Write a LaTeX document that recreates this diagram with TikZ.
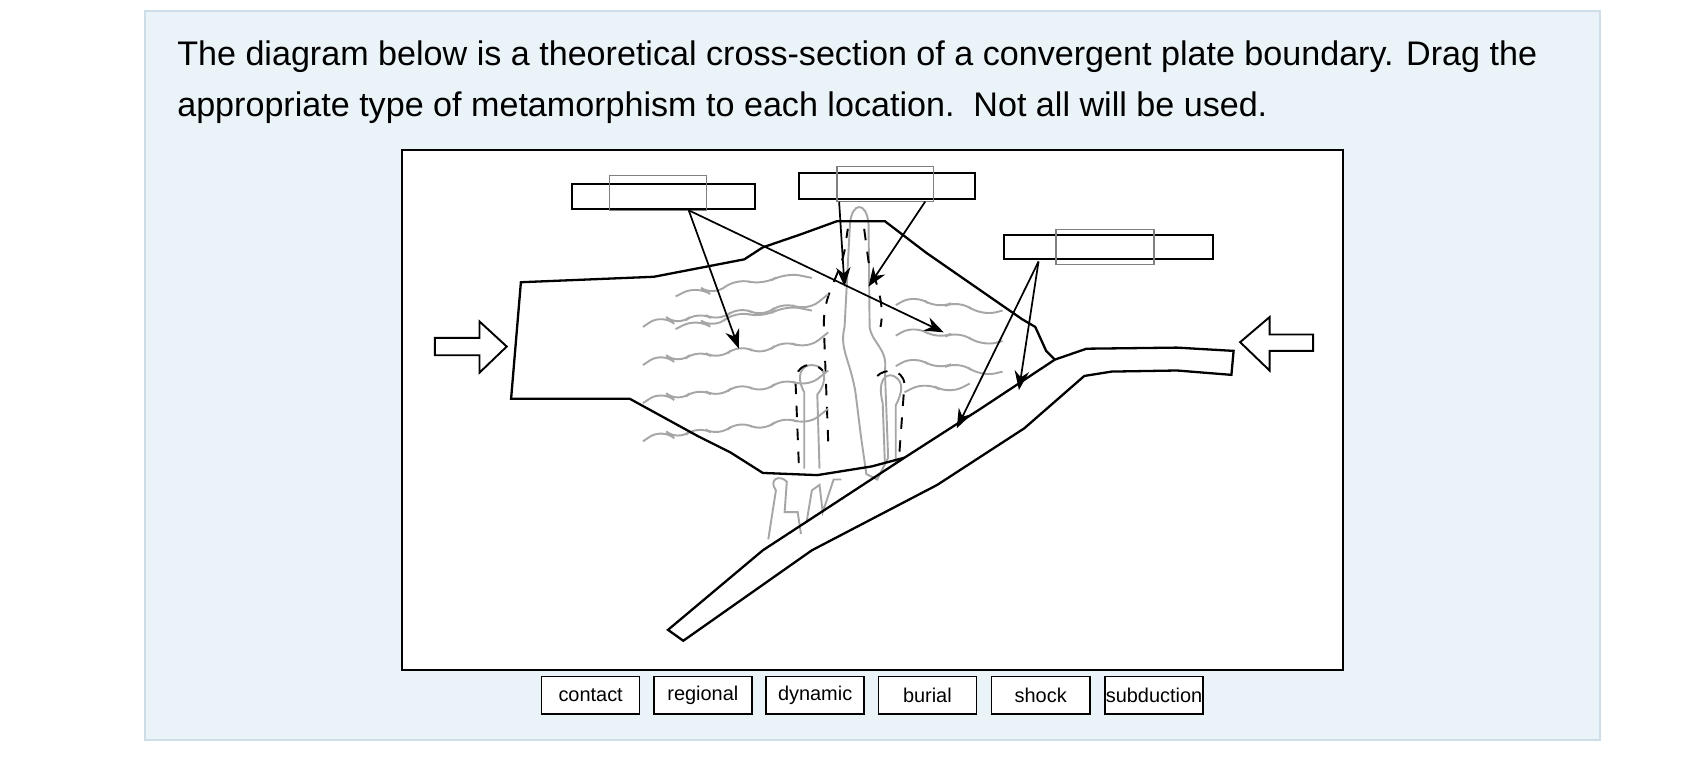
\documentclass[tikz,border=0pt]{standalone}
\usepackage{fontspec}
\setmainfont{Liberation Sans}
\usetikzlibrary{arrows.meta}
\definecolor{panelblue}{RGB}{234,243,247}
\definecolor{panelline}{RGB}{205,222,232}
\tikzset{
    labelbox/.style={draw, line width=0.5pt},
    innerbox/.style={draw=gray, line width=0.3pt},
    pointer/.style={-{Stealth[length=5pt]}, line width=0.45pt},
    foliation/.style={gray!70, line width=0.5pt, rounded corners=4pt},
    choice/.style={draw, fill=white, line width=0.4pt, minimum width=0.9cm, minimum height=0.34cm, font=\fontsize{5.2}{6}\selectfont, inner sep=0pt}
}
\begin{document}
\begin{tikzpicture}[x=0.01cm, y=-0.01cm]

    %% Page and panel
    \fill[white] (0,0) rectangle (1560,701);
    \filldraw[fill=panelblue, draw=panelline] (133,10) rectangle (1468,679);
    \node[anchor=base west, font=\fontsize{8.9}{10}\selectfont, inner sep=0] (line1) at (162,60)
        {The diagram below is a theoretical cross-section of a convergent plate boundary. Drag the};
    \node[anchor=base west, font=\fontsize{8.9}{10}\selectfont, inner sep=0] (line2) at (162,107)
        {appropriate type of metamorphism to each location.\ \ Not all will be used.};

    % Diagram frame
    \filldraw[fill=white, draw=black, line width=0.5pt] (369,138) rectangle (1232,615);

    % Pluton (gray)
    \begin{scope}[gray!70, line width=0.5pt]
        \draw (780,205) .. controls (782,185) and (795,185) .. (797,205)
            -- (798,300) .. controls (800,315) and (815,320) .. (812,340)
            -- (815,420) -- (805,440) -- (795,435) -- (790,400) -- (785,360)
            .. controls (780,330) and (770,320) .. (775,300) -- cycle;
        \draw (738,430) -- (738,360) .. controls (730,345) and (735,335) .. (745,335)
            .. controls (758,335) and (760,350) .. (750,362) -- (752,430);
        \draw (812,425) -- (810,370) .. controls (805,350) and (812,342) .. (820,345)
            .. controls (830,350) and (828,360) .. (822,372) -- (822,425);
        \draw (705,495) -- (712,450) .. controls (705,440) and (715,435) .. (722,442)
            -- (720,470) -- (732,470) -- (735,490);
        \draw (740,480) -- (745,450) -- (752,445) -- (755,470) -- (765,440) -- (772,440);
    \end{scope}

    % Dashed outline of the pluton
    \draw[dashed, line width=0.5pt] (760,405) -- (756,300) .. controls (755,270) and (770,255) .. (775,230)
        -- (778,210);
    \draw[dashed, line width=0.5pt] (793,210) -- (797,240) .. controls (805,260) and (812,280) .. (808,300);
    \draw[dashed, line width=0.5pt] (733,425) -- (730,350) .. controls (730,335) and (745,330) .. (755,340);
    \draw[dashed, line width=0.5pt] (805,345) .. controls (812,338) and (828,338) .. (830,352) -- (825,420);

    % Foliation, left cluster
    \foreach \y in {0,35,70,105} {
        \draw[foliation] (590,300+\y) -- (608,288+\y) -- (622,300+\y) -- (640,285+\y) -- (660,296+\y)
            -- (678,280+\y) -- (700,292+\y) -- (718,276+\y) -- (740,286+\y) -- (760,270+\y);
    }
    \foreach \y in {0,30} {
        \draw[foliation] (620,272+\y) -- (640,262+\y) -- (655,272+\y) -- (675,255+\y) -- (700,262+\y) -- (720,250+\y) -- (745,255+\y);
    }

    % Foliation, right cluster
    \foreach \y in {0,28,56} {
        \draw[foliation] (822,280+\y) -- (840,270+\y) -- (860,284+\y) -- (880,275+\y) -- (900,290+\y) -- (920,285+\y);
    }
    \draw[foliation] (830,360) -- (850,350) -- (870,362) -- (890,352);

    % Overriding plate
    \draw[line width=0.6pt] (968,330) -- (960,322) -- (950,300) -- (938,293) -- (850,232) -- (812,203)
        -- (768,203) -- (735,215) -- (700,227) -- (683,238) -- (600,254) -- (478,259)
        -- (469,366) -- (578,366) -- (640,400) -- (670,415) -- (700,434) -- (750,436)
        -- (800,428) -- (830,420);

    % Subducting plate
    \draw[line width=0.6pt] (613,578) -- (700,505) -- (830,420) -- (900,375) -- (968,330)
        -- (997,320) -- (1080,319) -- (1132,322) -- (1130,344) -- (1080,340) -- (1020,341)
        -- (995,345) -- (940,393) -- (860,445) -- (745,505) -- (627,588) -- cycle;

    % Compression arrows
    \draw[line width=0.5pt] (399,310) -- (440,310) -- (440,295) -- (465,318) -- (440,342)
        -- (440,326) -- (399,326) -- cycle;
    \draw[line width=0.5pt] (1205,307) -- (1165,307) -- (1165,291) -- (1138,314) -- (1165,340)
        -- (1165,322) -- (1205,322) -- cycle;

    % Drop targets
    \draw[labelbox] (525,169) rectangle (693,192);
    \draw[innerbox] (559,161) rectangle (648,193);
    \draw[labelbox] (733,159) rectangle (895,183);
    \draw[innerbox] (768,153) rectangle (857,185);
    \draw[labelbox] (921,216) rectangle (1113,238);
    \draw[innerbox] (969,211) rectangle (1059,243);

    % Pointers
    \coordinate (boxA) at (632,193);
    \coordinate (boxB1) at (770,185);
    \coordinate (boxB2) at (849,185);
    \coordinate (boxC) at (953,240);
    \draw[pointer] (boxA) -- (678,320);
    \draw[pointer] (boxA) -- (866,305);
    \draw[pointer] (boxB1) -- (775,263);
    \draw[pointer] (boxB2) -- (797,263);
    \draw[pointer] (boxC) -- (878,393);
    \draw[pointer] (boxC) -- (935,358);

    % Choices
    \node[choice] (contact) at (542,638) {contact};
    \node[choice] (regional) at (645,638) {regional};
    \node[choice] (dynamic) at (748,638) {dynamic};
    \node[choice] (burial) at (851,638) {burial};
    \node[choice] (shock) at (955,638) {shock};
    \node[choice] (subduction) at (1059,638) {subduction};

\end{tikzpicture}
\end{document}
